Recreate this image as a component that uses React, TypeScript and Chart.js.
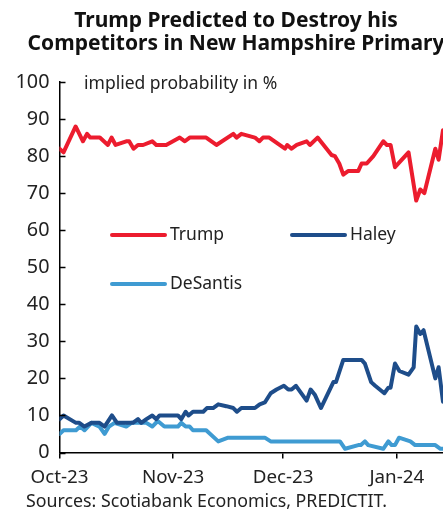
import React, { useEffect, useRef } from "react";
import { Chart, registerables } from "chart.js";

Chart.register(...registerables);

// x values are days since 1 Oct 2023
const trumpDays = [0, 1.1, 4.4, 6.4, 7.5, 8.4, 11, 13.2, 14.2, 15.3, 18.2, 19, 20.2, 21.4, 22.8, 25.3, 26.4, 29.1, 32.8, 34.2, 35.5, 40, 42.8, 47.4, 48.3, 49.6, 53.3, 54.5, 55.5, 57.2, 61.5, 62.1, 63.3, 64.7, 67.4, 68.3, 70.4, 74.2, 75.1, 76.3, 77.4, 78.8, 81.5, 82.4, 83.8, 85.6, 88.3, 89.3, 90.3, 91.5, 95.2, 97.3, 98.4, 99.5, 102.5, 103.4, 104.6];
const trumpValues = [82, 81, 88, 84, 86, 85, 85, 83, 85, 83, 84, 84, 82, 83, 83, 84, 83, 83, 85, 84, 85, 85, 83, 86, 85, 86, 85, 84, 85, 85, 82, 83, 82, 83, 84, 83, 85, 80.3, 80, 78, 75, 76, 76, 78, 78, 80, 84, 83, 83, 77, 81, 68, 71, 70, 82, 79, 87];

const haleyDays = [0, 1.1, 4.5, 5.4, 6.8, 8.7, 10.9, 12.3, 14.3, 15.7, 20, 21.4, 22.3, 23.7, 25.3, 26.4, 27.3, 32.3, 33.2, 34.4, 35.2, 36.4, 39.2, 40.2, 41.9, 43.3, 45.5, 47.4, 48.4, 49.6, 53.3, 54.6, 56, 57.6, 59.2, 61.2, 62.4, 63.3, 64.5, 67.4, 68.5, 69.7, 71.3, 74.7, 75.4, 77.4, 82.4, 83.3, 85, 86.1, 88.6, 89.7, 90.3, 91.5, 92.7, 95.2, 96.6, 97.3, 98.4, 99.3, 102.5, 103.4, 104.6];
const haleyValues = [9, 10, 8, 8, 7, 8, 8, 7, 10, 8, 8, 9, 8, 9, 10, 9, 10, 10, 9, 11, 10, 11, 11, 12, 12, 13, 12.5, 12, 11, 12, 12, 13, 13.5, 16, 17, 18, 17, 17, 18, 14, 17, 15.5, 12, 19, 19, 25, 25, 24, 19, 18, 16, 17.5, 17.5, 24, 22, 21, 23, 34, 32, 33, 20, 23, 13.7];

const desantisDays = [0, 1.1, 4.5, 5.6, 6.8, 8.7, 10.9, 12.3, 13.5, 15, 18.2, 19.6, 23.7, 25.3, 26.8, 28.6, 32.3, 33.2, 34.4, 35.5, 36.4, 40, 43.3, 46, 56, 57.6, 76.5, 77.9, 81.5, 82.2, 83.3, 84.2, 88.3, 89.7, 90.6, 91.5, 92.6, 95.7, 97, 102.5, 103.9, 104.6];
const desantisValues = [5, 6, 6, 7, 6, 8, 7, 5, 7, 8, 7, 8, 8, 7, 8.5, 7, 7, 8, 7, 7, 6, 6, 3, 4, 4, 3, 3, 1, 2, 2, 3, 2, 1, 3, 2, 2, 4, 3, 2, 2, 1, 1];

const xTickDays = [0, 31, 61, 92];
const xTickLabels = ["Oct-23", "Nov-23", "Dec-23", "Jan-24"];
const yTicks = [0, 10, 20, 30, 40, 50, 60, 70, 80, 90, 100];

const seriesNames = ["Trump", "Haley", "DeSantis"];
const seriesColors = ["#EC1C2E", "#1E4D8A", "#3F9BD2"];

const titleLines = ["Trump Predicted to Destroy his", "Competitors in New Hampshire Primary"];
const unitLabel = "implied probability in %";
const sourceLabel = "Sources: Scotiabank Economics, PREDICTIT.";

const FONT = "'Noto Sans', sans-serif";

const toPoints = (xs: number[], ys: number[]) => xs.map((x, i) => ({ x, y: ys[i] }));

export default function App() {
  const ref = useRef<HTMLCanvasElement | null>(null);

  useEffect(() => {
    if (!ref.current) return;

    const decor = {
      id: "decor",
      afterDraw(chart: any) {
        const ctx = chart.ctx;
        const area = chart.chartArea;
        const yScale = chart.scales.y;
        ctx.save();
        // inward y ticks
        ctx.strokeStyle = "#000";
        ctx.lineWidth = 1.5;
        yTicks.forEach((v) => {
          const py = Math.round(yScale.getPixelForValue(v)) + 0.5;
          ctx.beginPath();
          ctx.moveTo(area.left, py);
          ctx.lineTo(area.left + 6, py);
          ctx.stroke();
        });
        // title
        ctx.fillStyle = "#111";
        ctx.textAlign = "center";
        ctx.textBaseline = "alphabetic";
        ctx.font = `bold 21px ${FONT}`;
        ctx.fillText(titleLines[0], 236, 27);
        ctx.fillText(titleLines[1], 236, 49.5);
        // unit label
        ctx.textAlign = "left";
        ctx.textBaseline = "middle";
        ctx.font = `17.5px ${FONT}`;
        ctx.fillStyle = "#222";
        ctx.fillText(unitLabel, 84, 84);
        // legend
        const legendPos = [
          { x: 112, y: 235 },
          { x: 292, y: 235 },
          { x: 112, y: 284 },
        ];
        chart.data.datasets.forEach((ds: any, i: number) => {
          const p = legendPos[i];
          ctx.strokeStyle = ds.borderColor;
          ctx.lineWidth = 4;
          ctx.lineCap = "round";
          ctx.beginPath();
          ctx.moveTo(p.x, p.y);
          ctx.lineTo(p.x + 53, p.y);
          ctx.stroke();
          ctx.fillStyle = "#222";
          ctx.font = `17.5px ${FONT}`;
          ctx.fillText(ds.label, p.x + 58, p.y);
        });
        // source
        ctx.font = `17.8px ${FONT}`;
        ctx.fillStyle = "#222";
        ctx.fillText(sourceLabel, 26, 502);
        ctx.restore();
      },
    };

    const chart = new Chart(ref.current, {
      type: "line",
      data: {
        datasets: [
          { label: seriesNames[0], data: toPoints(trumpDays, trumpValues), borderColor: seriesColors[0] },
          { label: seriesNames[1], data: toPoints(haleyDays, haleyValues), borderColor: seriesColors[1] },
          { label: seriesNames[2], data: toPoints(desantisDays, desantisValues), borderColor: seriesColors[2] },
        ].map((d) => ({
          ...d,
          backgroundColor: d.borderColor,
          borderWidth: 4,
          pointRadius: 0,
          tension: 0,
          borderJoinStyle: "round" as const,
          borderCapStyle: "round" as const,
          fill: false,
        })),
      },
      options: {
        animation: false,
        responsive: false,
        maintainAspectRatio: false,
        layout: { padding: { top: 82, right: 0, left: 0, bottom: 0 } },
        plugins: { legend: { display: false }, tooltip: { enabled: false }, title: { display: false } },
        scales: {
          x: {
            type: "linear",
            min: 0,
            max: 104.6,
            afterFit: (s: any) => {
              s.height = 59.5;
            },
            afterBuildTicks: (s: any) => {
              s.ticks = xTickDays.map((v) => ({ value: v }));
            },
            ticks: {
              autoSkip: false,
              maxRotation: 0,
              padding: 8,
              color: "#222",
              font: { family: FONT, size: 18.8 },
              callback: (v: any) => {
                const i = xTickDays.indexOf(Number(v));
                return i >= 0 ? xTickLabels[i] : "";
              },
            },
            grid: { drawOnChartArea: false, drawTicks: true, tickLength: 6, color: "#000", lineWidth: 1.5 },
            border: { display: true, color: "#000", width: 1.5 },
          },
          y: {
            min: 0,
            max: 100,
            afterFit: (s: any) => {
              s.width = 59.5;
            },
            afterBuildTicks: (s: any) => {
              s.ticks = yTicks.map((v) => ({ value: v }));
            },
            ticks: {
              padding: 10,
              color: "#222",
              font: { family: FONT, size: 19.8 },
            },
            grid: { drawOnChartArea: false, drawTicks: false },
            border: { display: true, color: "#000", width: 1.5 },
          },
        },
      },
      plugins: [decor],
    } as any);

    return () => chart.destroy();
  }, []);

  return (
    <div style={{ position: "absolute", left: 0, top: 0, width: 443, height: 512, background: "#fff" }}>
      <canvas ref={ref} width={443} height={512} style={{ display: "block" }} />
    </div>
  );
}
